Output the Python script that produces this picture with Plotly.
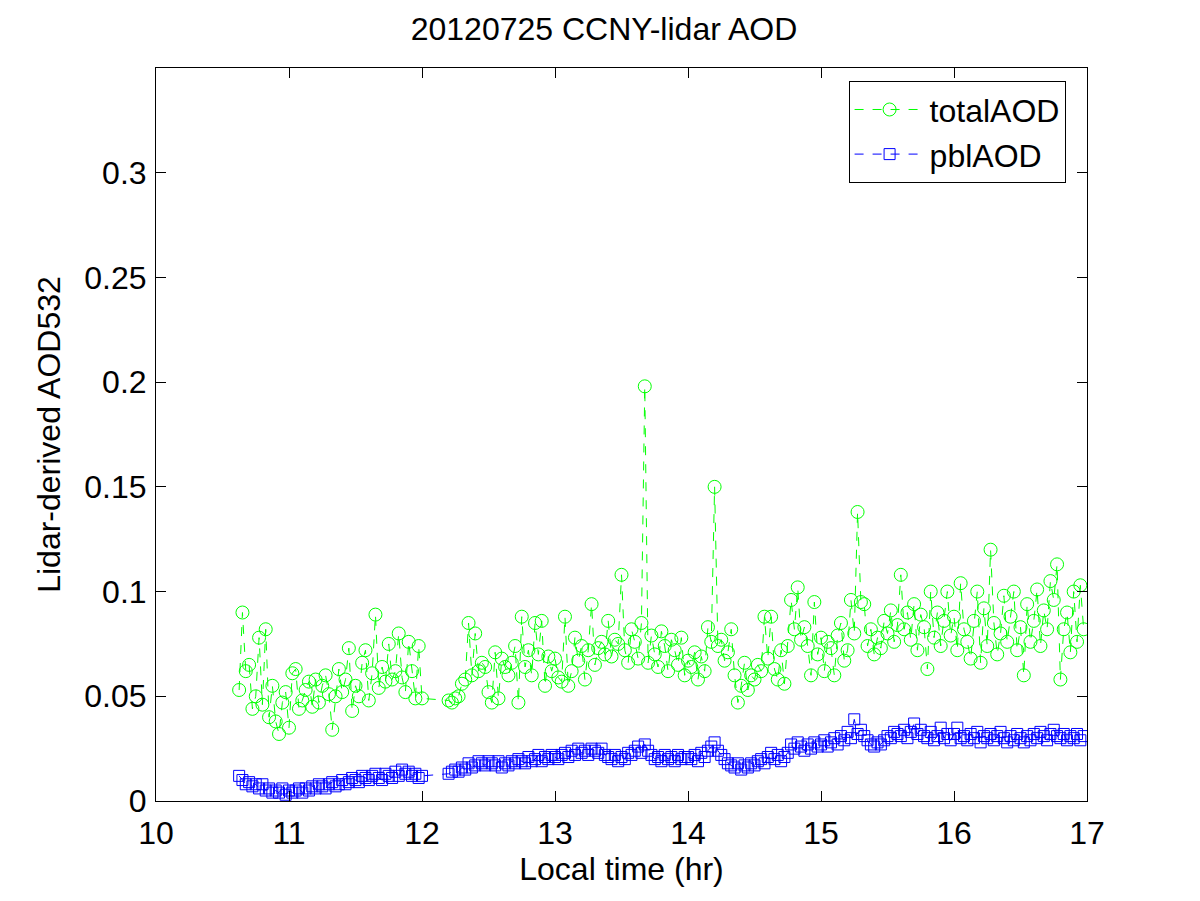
import numpy as np
import plotly.graph_objects as go

# morning segment, 10.625 to 12.0 hr, one profile every 1.5 min
total_am = [0.053, 0.090, 0.062, 0.065, 0.044, 0.050, 0.078, 0.046, 0.082, 0.040,
            0.055, 0.038, 0.032, 0.047, 0.052, 0.035, 0.061, 0.063, 0.044, 0.048,
            0.053, 0.057, 0.045, 0.058, 0.047, 0.055, 0.060, 0.051, 0.034, 0.050,
            0.063, 0.052, 0.058, 0.073, 0.043, 0.055, 0.050, 0.066, 0.072, 0.048,
            0.061, 0.089, 0.054, 0.064, 0.057, 0.075, 0.058, 0.062, 0.080, 0.059,
            0.052, 0.076, 0.062, 0.049, 0.074, 0.049]
pbl_am = [0.012, 0.010, 0.008, 0.009, 0.007, 0.008, 0.006, 0.008, 0.005, 0.006,
          0.004, 0.005, 0.004, 0.006, 0.003, 0.005, 0.004, 0.005, 0.006, 0.004,
          0.006, 0.005, 0.007, 0.006, 0.008, 0.007, 0.006, 0.008, 0.009, 0.007,
          0.008, 0.010, 0.008, 0.009, 0.011, 0.010, 0.009, 0.012, 0.011, 0.010,
          0.012, 0.013, 0.011, 0.010, 0.013, 0.012, 0.011, 0.014, 0.012, 0.015,
          0.013, 0.014, 0.012, 0.013, 0.011, 0.012]

# afternoon segment from 12.2 hr, same 1.5 min step, split by hour
total_12 = [0.048, 0.047, 0.049, 0.050, 0.056, 0.058, 0.085, 0.060, 0.080, 0.062,
            0.066, 0.064, 0.052, 0.047, 0.071, 0.049, 0.068, 0.064, 0.060, 0.066,
            0.074, 0.047, 0.088, 0.064, 0.072, 0.060, 0.085, 0.070, 0.086, 0.055,
            0.069, 0.062]
total_13 = [0.068, 0.059, 0.057, 0.088, 0.055, 0.062, 0.078, 0.067, 0.074, 0.058,
            0.072, 0.094, 0.065, 0.073, 0.076, 0.070, 0.086, 0.069, 0.077, 0.075,
            0.108, 0.072, 0.066, 0.082, 0.076, 0.068, 0.085, 0.198, 0.066, 0.079,
            0.070, 0.064, 0.081, 0.074, 0.062, 0.077, 0.072, 0.065, 0.078, 0.060]
total_14 = [0.067, 0.064, 0.071, 0.058, 0.069, 0.062, 0.083, 0.076, 0.150, 0.074,
            0.077, 0.067, 0.071, 0.082, 0.060, 0.047, 0.055, 0.066, 0.053, 0.060,
            0.058, 0.065, 0.062, 0.088, 0.068, 0.088, 0.063, 0.058, 0.072, 0.056,
            0.074, 0.096, 0.082, 0.102, 0.077, 0.083, 0.074, 0.060, 0.095, 0.070]
total_15 = [0.078, 0.062, 0.076, 0.073, 0.060, 0.079, 0.085, 0.067, 0.072, 0.096,
            0.080, 0.138, 0.095, 0.094, 0.074, 0.082, 0.070, 0.078, 0.073, 0.086,
            0.080, 0.091, 0.076, 0.084, 0.108, 0.082, 0.090, 0.077, 0.094, 0.072,
            0.089, 0.083, 0.063, 0.100, 0.078, 0.090, 0.074, 0.086, 0.100, 0.079]
total_16 = [0.088, 0.072, 0.104, 0.082, 0.076, 0.068, 0.086, 0.100, 0.066, 0.092,
            0.074, 0.120, 0.085, 0.070, 0.080, 0.098, 0.076, 0.088, 0.100, 0.072,
            0.083, 0.060, 0.094, 0.076, 0.086, 0.101, 0.074, 0.091, 0.082, 0.105,
            0.096, 0.113, 0.058, 0.082, 0.090, 0.071, 0.100, 0.076, 0.103, 0.082]

pbl_12 = [0.013, 0.014, 0.015, 0.014, 0.016, 0.015, 0.018, 0.016, 0.017, 0.019,
          0.018, 0.017, 0.019, 0.018, 0.017, 0.019, 0.016, 0.018, 0.017, 0.019,
          0.018, 0.020, 0.019, 0.018, 0.021, 0.019, 0.020, 0.022, 0.019, 0.021,
          0.020, 0.022]
pbl_13 = [0.021, 0.020, 0.022, 0.023, 0.021, 0.024, 0.022, 0.025, 0.023, 0.024,
          0.022, 0.025, 0.024, 0.023, 0.025, 0.022, 0.021, 0.020, 0.022, 0.019,
          0.021, 0.020, 0.023, 0.022, 0.024, 0.026, 0.023, 0.027, 0.024, 0.022,
          0.020, 0.021, 0.019, 0.022, 0.020, 0.021, 0.019, 0.022, 0.020, 0.021]
pbl_14 = [0.021, 0.020, 0.022, 0.019, 0.023, 0.021, 0.024, 0.026, 0.028, 0.024,
          0.022, 0.020, 0.018, 0.017, 0.016, 0.018, 0.015, 0.017, 0.016, 0.018,
          0.017, 0.019, 0.020, 0.018, 0.021, 0.023, 0.020, 0.022, 0.019, 0.021,
          0.023, 0.027, 0.025, 0.028, 0.026, 0.024, 0.027, 0.025, 0.028, 0.026]
pbl_15 = [0.027, 0.029, 0.026, 0.028, 0.030, 0.027, 0.031, 0.029, 0.033, 0.030,
          0.039, 0.032, 0.034, 0.031, 0.029, 0.027, 0.026, 0.028, 0.027, 0.029,
          0.031, 0.030, 0.033, 0.032, 0.031, 0.034, 0.030, 0.033, 0.037, 0.032,
          0.034, 0.031, 0.030, 0.033, 0.029, 0.031, 0.035, 0.030, 0.032, 0.029]
pbl_16 = [0.032, 0.035, 0.030, 0.031, 0.029, 0.032, 0.030, 0.033, 0.028, 0.031,
          0.030, 0.032, 0.029, 0.031, 0.033, 0.030, 0.028, 0.031, 0.029, 0.032,
          0.030, 0.028, 0.031, 0.029, 0.032, 0.030, 0.033, 0.031, 0.029, 0.032,
          0.034, 0.031, 0.030, 0.032, 0.029, 0.031, 0.030, 0.032, 0.029, 0.031]

am_start, pm_start, step = 10.625, 12.2, 0.025

total_pm = total_12 + total_13 + total_14 + total_15 + total_16
pbl_pm = pbl_12 + pbl_13 + pbl_14 + pbl_15 + pbl_16

time_hr = np.concatenate([
    am_start + step * np.arange(len(total_am)),
    pm_start + step * np.arange(len(total_pm)),
])
total_aod = total_am + total_pm
pbl_aod = pbl_am + pbl_pm

font = 'Liberation Sans, Arial, sans-serif'
green = 'rgb(0,255,0)'
blue = 'rgb(0,0,255)'

fig = go.Figure()
fig.add_trace(go.Scatter(
    x=time_hr, y=total_aod, name='totalAOD', mode='lines+markers',
    line=dict(color=green, width=1, dash='dash'),
    marker=dict(symbol='circle-open', size=13, color=green, line=dict(width=1))
))
fig.add_trace(go.Scatter(
    x=time_hr, y=pbl_aod, name='pblAOD', mode='lines+markers',
    line=dict(color=blue, width=1, dash='dash'),
    marker=dict(symbol='square-open', size=11, color=blue, line=dict(width=1))
))

axis_style = dict(
    showline=True, linecolor='black', linewidth=1, mirror='ticks',
    ticks='inside', ticklen=10, tickcolor='black', showgrid=False,
    zeroline=False, automargin=False,
    tickfont=dict(size=32, color='black', family=font),
)

# the page body adds an 8 px offset, so the figure is a little smaller
fig.update_layout(
    width=1192, height=893,
    paper_bgcolor='white', plot_bgcolor='white',
    margin=dict(l=148, r=113, t=60, b=100),
    font=dict(family=font, color='black'),
    title=dict(text='20120725 CCNY-lidar AOD', x=0.5, xanchor='center',
               y=0.977, yanchor='middle', font=dict(size=32)),
    showlegend=True,
    legend=dict(x=0.977, y=0.982, xanchor='right', yanchor='top',
                bgcolor='white', bordercolor='black', borderwidth=1,
                font=dict(size=32), tracegroupgap=0, itemwidth=70),
)
fig.update_xaxes(range=[10, 17], dtick=1, ticklabelstandoff=4,
                 title=dict(text='Local time (hr)', font=dict(size=32), standoff=0),
                 **axis_style)
fig.update_yaxes(range=[0, 0.35], tickvals=[0, 0.05, 0.1, 0.15, 0.2, 0.25, 0.3],
                 ticktext=['0', '0.05', '0.1', '0.15', '0.2', '0.25', '0.3'],
                 ticklabelstandoff=2,
                 title=dict(text='Lidar-derived AOD532', font=dict(size=32), standoff=14),
                 **axis_style)

fig.write_html('out.html')
